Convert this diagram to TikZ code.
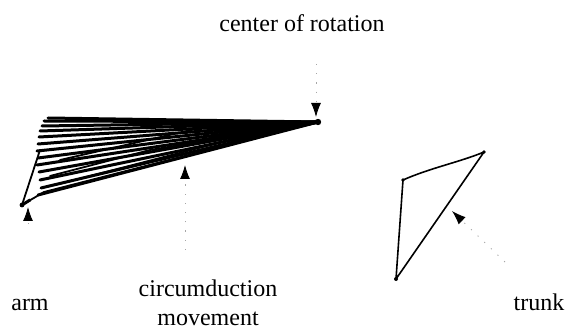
\documentclass[tikz,border=0pt]{standalone}
\usepackage{fontspec}
\setmainfont{Liberation Serif}
\usetikzlibrary{arrows.meta}
\begin{document}
\begin{tikzpicture}[x=1pt,y=-1pt,
  lbl/.style={font=\fontsize{24}{26}\selectfont, anchor=base, inner sep=0pt},
  armline/.style={line width=3pt, line cap=round, line join=round},
  thin/.style={line width=1.8pt, line cap=round, line join=round},
  pointer/.style={gray!70, line width=0.9pt, dash pattern=on 1.2pt off 8pt, -{Latex[length=14pt,width=10pt,black]}},
  trunkline/.style={line width=1.6pt, line join=round}]
\useasboundingbox (0,0) rectangle (573,331);
% labels
\node[lbl] (cor) at (302,32) {center of rotation};
\node[lbl] (arm) at (30,310) {arm};
\node[lbl] (circ) at (208,296) {circumduction};
\node[lbl] (mov) at (208,325) {movement};
\node[lbl] (trk) at (539,310) {trunk};
% arm fan
\coordinate (C) at (318,122);
\coordinate (H) at (22,205);
\foreach \x/\y in {48/118, 44/121, 42/126, 40/131, 39/137, 38/144, 37/151, 38/158, 37/165, 39/172, 40/180, 41/188, 38/195}
  \draw[armline] (C) -- (\x,\y);
\draw[thin] (H) -- (40,150);
\draw[thin] (H) -- (44,192) -- (C);
\draw[armline] (H) -- (30,200);
\draw[thin] (50,176) -- (150,150) -- (C);
\draw[thin] (60,160) -- (200,128);
\draw[thin] (55,185) -- (230,140);
\fill (C) circle (3.2pt);
\fill (H) circle (2.4pt);
% trunk
\coordinate (T1) at (403,180);
\coordinate (T2) at (484,152);
\coordinate (T3) at (396,279);
\draw[trunkline] (T3) -- (T1) .. controls (430,168) and (460,162) .. (T2) -- cycle;
\fill (T1) circle (1.8pt);
\fill (T2) circle (1.8pt);
\fill (T3) circle (2pt);
% pointers
\coordinate (corS) at (316,64);
\coordinate (corE) at (316,117);
\draw[pointer] (corS) -- (corE);
\coordinate (cmS) at (185,250);
\coordinate (cmE) at (185,165);
\draw[pointer] (cmS) -- (cmE);
\coordinate (amS) at (28,224);
\coordinate (amE) at (28,207);
\draw[pointer] (amS) -- (amE);
\coordinate (tkS) at (505,262);
\coordinate (tkE) at (452,211);
\draw[pointer] (tkS) -- (tkE);
\end{tikzpicture}
\end{document}
